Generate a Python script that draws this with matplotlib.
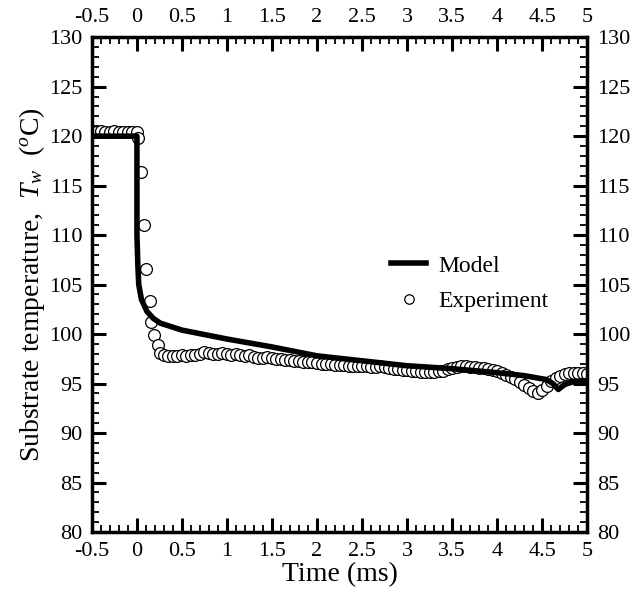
import matplotlib
matplotlib.use("Agg")
import matplotlib.pyplot as plt
from matplotlib.ticker import MultipleLocator

plt.rcParams["font.family"] = ["Liberation Serif", "DejaVu Serif"]
plt.rcParams["mathtext.fontset"] = "custom"
plt.rcParams["mathtext.rm"] = "Liberation Serif"
plt.rcParams["mathtext.it"] = "Liberation Serif:italic"

# model curve
model_t = [-0.5, 0.0, 0.0, 0.01, 0.02, 0.05, 0.11, 0.18, 0.26, 0.5, 1.0, 1.5,
           2.0, 2.5, 3.0, 3.5, 4.0, 4.3, 4.55, 4.62, 4.68, 4.75, 4.85, 5.0]
model_T = [120.0, 120.0, 110.0, 107.0, 105.0, 103.5, 102.3, 101.6, 101.1, 100.4,
           99.5, 98.7, 97.8, 97.3, 96.8, 96.5, 96.1, 95.8, 95.4, 95.0, 94.4,
           94.9, 95.2, 95.3]

# experiment
exp_t = [-0.5, -0.45, -0.4, -0.35, -0.3, -0.25, -0.2, -0.15, -0.1, -0.05, 0.0,
         0.007, 0.05, 0.075, 0.105, 0.14, 0.157, 0.195, 0.23, 0.26,
         0.30, 0.35, 0.40, 0.45, 0.50, 0.55, 0.60, 0.65, 0.70, 0.75, 0.80,
         0.85, 0.90, 0.95, 1.00, 1.05, 1.10, 1.15, 1.20, 1.25, 1.30, 1.35,
         1.40, 1.45, 1.50, 1.55, 1.60, 1.65, 1.70, 1.75, 1.80, 1.85, 1.90,
         1.95, 2.00, 2.05, 2.10, 2.15, 2.20, 2.25, 2.30, 2.35, 2.40, 2.45,
         2.50, 2.55, 2.60, 2.65, 2.70, 2.75, 2.80, 2.85, 2.90, 2.95, 3.00,
         3.05, 3.10, 3.15, 3.20, 3.25, 3.30, 3.35, 3.40, 3.45, 3.50, 3.55,
         3.60, 3.65, 3.70, 3.75, 3.80, 3.85, 3.90, 3.95, 4.00, 4.05, 4.10,
         4.15, 4.20, 4.25, 4.30, 4.35, 4.40, 4.45, 4.50, 4.55, 4.60, 4.65,
         4.70, 4.75, 4.80, 4.85, 4.90, 4.95, 5.00]
exp_T = [120.4, 120.4, 120.5, 120.4, 120.4, 120.5, 120.4, 120.4, 120.4, 120.4, 120.4,
         119.8, 116.4, 111.0, 106.6, 103.3, 101.2, 99.9, 98.9, 98.1,
         97.9, 97.8, 97.8, 97.8, 97.9, 97.8, 97.9, 97.9, 98.0, 98.2, 98.1,
         98.0, 98.0, 98.1, 98.0, 97.9, 98.0, 97.9, 97.8, 97.9, 97.7, 97.6,
         97.6, 97.7, 97.6, 97.5, 97.5, 97.4, 97.4, 97.3, 97.3, 97.2, 97.2,
         97.2, 97.1, 97.0, 97.0, 97.0, 96.9, 96.9, 96.9, 96.8, 96.8, 96.8,
         96.8, 96.8, 96.7, 96.7, 96.8, 96.7, 96.6, 96.5, 96.5, 96.4, 96.4,
         96.3, 96.3, 96.2, 96.2, 96.2, 96.2, 96.3, 96.3, 96.5, 96.6, 96.7,
         96.8, 96.8, 96.7, 96.7, 96.6, 96.6, 96.5, 96.4, 96.3, 96.1, 95.9,
         95.7, 95.5, 95.2, 94.9, 94.6, 94.2, 94.0, 94.3, 94.8, 95.3, 95.6,
         95.8, 96.0, 96.1, 96.1, 96.1, 96.1, 96.0]

fig = plt.figure(figsize=(6.34, 5.94), dpi=100)
ax = fig.add_axes([0.145, 0.1044, 0.781, 0.833])

ax.plot(exp_t, exp_T, "o", mfc="white", mec="black", ms=8.5, mew=0.9,
        label="Experiment", zorder=2)
ax.plot(model_t, model_T, "-", color="black", lw=4, label="Model", zorder=3)

ax.set_xlim(-0.5, 5)
ax.set_ylim(80, 130)
ax.xaxis.set_minor_locator(MultipleLocator(0.1))
ax.yaxis.set_major_locator(MultipleLocator(5))
ax.yaxis.set_minor_locator(MultipleLocator(1))
ax.set_xticks([-0.5, 0, 0.5, 1, 1.5, 2, 2.5, 3, 3.5, 4, 4.5, 5])
ax.set_xticklabels(["-0.5", "0", "0.5", "1", "1.5", "2", "2.5", "3", "3.5",
                    "4", "4.5", "5"])
ax.tick_params(which="both", direction="in", top=True, right=True,
               labeltop=True, labelright=True, labelsize=16)
ax.tick_params(which="major", length=10, width=2.2, pad=7)
ax.tick_params(which="minor", length=5, width=1.3)
for s in ax.spines.values():
    s.set_linewidth(2.5)

ax.set_xlabel("Time (ms)", fontsize=20, labelpad=1)
ax.set_ylabel("Substrate temperature,  $T_w$  ($^o$C)", fontsize=20, labelpad=1)

h, l = ax.get_legend_handles_labels()
ax.legend([h[1], h[0]], [l[1], l[0]], loc=(0.585, 0.425), frameon=False,
          fontsize=17, handlelength=1.5, handletextpad=0.5, labelspacing=0.6,
          markerscale=0.8)

fig.savefig("out.png", dpi=100)
